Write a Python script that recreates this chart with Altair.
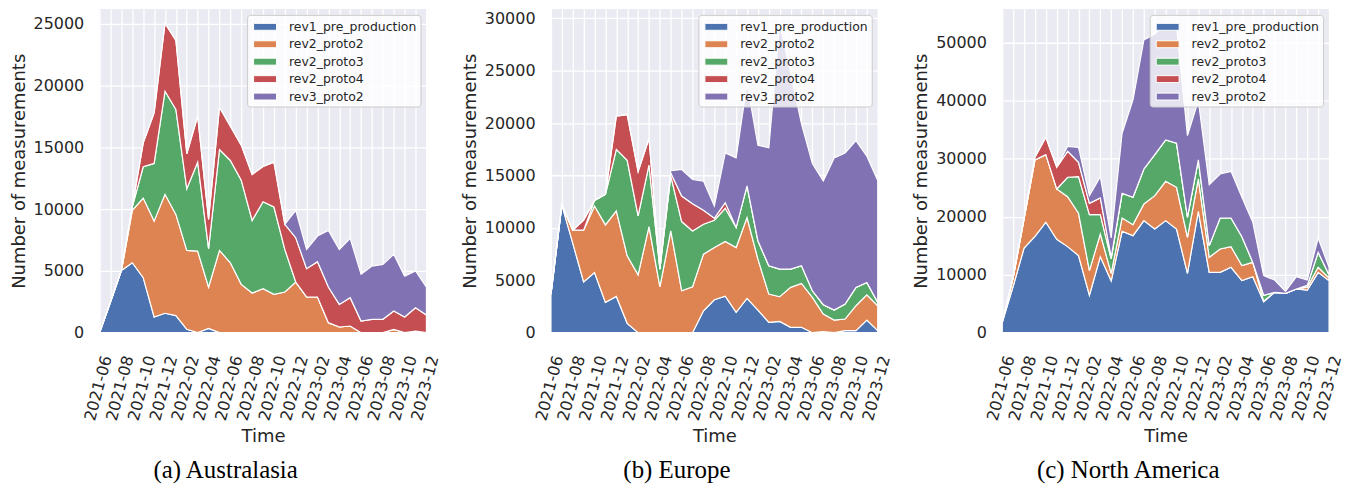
import json
import altair as alt
import pandas as pd

MONTHS = ["2021-06", "2021-07", "2021-08", "2021-09", "2021-10", "2021-11", "2021-12",
          "2022-01", "2022-02", "2022-03", "2022-04", "2022-05", "2022-06", "2022-07",
          "2022-08", "2022-09", "2022-10", "2022-11", "2022-12", "2023-01", "2023-02",
          "2023-03", "2023-04", "2023-05", "2023-06", "2023-07", "2023-08", "2023-09",
          "2023-10", "2023-11", "2023-12"]
SERIES = ["rev1_pre_production", "rev2_proto2", "rev2_proto3", "rev2_proto4", "rev3_proto2"]
COLORS = ["#4C72B0", "#DD8452", "#55A868", "#C44E52", "#8172B3"]

# (a) Australasia
AUS_REV1 = [0, 2500, 5040, 5660, 4450, 1270, 1570, 1380, 270, 0, 350, 0, 0, 0, 0, 0,
            0, 0, 0, 0, 0, 0, 0, 0, 0, 0, 0, 0, 0, 0, 0]
AUS_P2 = [0, 0, 0, 4240, 6450, 7760, 9630, 8190, 6390, 6600, 3340, 6660, 5660, 3910, 3210, 3560,
          3100, 3290, 4100, 2890, 2890, 810, 460, 540, 0, 0, 0, 270, 0, 130, 0]
AUS_P3 = [0, 0, 0, 300, 2530, 4670, 8350, 8500, 4990, 7200, 3110, 8170, 8280, 8440, 5880, 7040,
          7070, 3450, 0, 0, 0, 0, 0, 0, 0, 0, 0, 0, 0, 0, 0]
AUS_P4 = [0, 0, 0, 0, 1940, 4100, 5500, 5580, 2830, 3730, 2370, 3430, 2780, 2830, 3720, 2860,
          3640, 2030, 3590, 2290, 2860, 2880, 1830, 2290, 945, 1080, 1080, 1480, 1270, 1890, 1430]
AUS_R3 = [0, 0, 0, 0, 0, 0, 0, 0, 0, 0, 0, 0, 0, 0, 0, 0,
          0, 0, 2210, 1560, 2070, 4590, 4450, 4800, 3775, 4310, 4450, 4590, 3310, 2970, 2260]

# (b) Europe
EU_REV1 = [3680, 12190, 8540, 4850, 5740, 2890, 3460, 890, 0, 0, 0, 0, 0, 0, 2090, 3140,
           3490, 1940, 3270, 2160, 990, 1080, 510, 510, 0, 100, 0, 190, 190, 1200, 190]
EU_P2 = [0, 0, 1240, 4930, 6350, 7390, 8160, 6440, 5520, 10120, 4380, 9710, 4000, 4380, 5400, 4980,
         5210, 6180, 7710, 4850, 2690, 2350, 3810, 4190, 3370, 1680, 1200, 1110, 2380, 2420, 2380]
EU_P3 = [0, 0, 0, 0, 530, 2920, 5870, 9110, 5620, 5870, 1680, 5240, 6600, 5330, 2860, 2610,
         3170, 1910, 3020, 1750, 2700, 2630, 1740, 1680, 630, 890, 960, 1430, 1750, 1170, 320]
EU_P4 = [0, 0, 0, 950, 0, 0, 3170, 4350, 4220, 2540, 0, 300, 2440, 2600, 1330, 190,
         540, 0, 0, 0, 0, 0, 0, 0, 0, 0, 0, 0, 0, 0, 0]
EU_R3 = [0, 0, 0, 0, 0, 0, 0, 0, 0, 0, 0, 200, 2530, 2300, 2780, 1160,
         4740, 6640, 9810, 9120, 11250, 23440, 18750, 13550, 12130, 11790, 14510, 14420, 14000, 12040, 11630]

# (c) North America
NA_REV1 = [1800, 8000, 14600, 16600, 19050, 16100, 14840, 13300, 6450, 13100, 8950, 17480, 16730, 19320, 17880, 19320,
           17880, 10240, 20930, 10410, 10410, 11270, 8970, 9660, 5350, 6960, 6790, 7530, 7360, 10410, 8970]
NA_P2 = [0, 1500, 5010, 13190, 11650, 8680, 8620, 7290, 4250, 3920, 1290, 2300, 1900, 2880, 5750, 6780,
         7190, 6210, 5580, 2590, 4020, 3570, 2590, 2470, 100, 0, 0, 0, 500, 860, 460]
NA_P3 = [0, 0, 0, 0, 0, 0, 3340, 6320, 9660, 3340, 2470, 4260, 4720, 6030, 7070, 7140,
         7590, 3450, 3280, 2010, 5350, 4940, 5000, 0, 1000, 0, 0, 0, 300, 2590, 570]
NA_P4 = [0, 0, 0, 460, 3000, 3740, 4480, 2470, 1950, 2870, 280, 0, 0, 0, 0, 0,
         0, 0, 0, 0, 0, 0, 0, 0, 0, 0, 0, 0, 0, 0, 0]
NA_R3 = [0, 0, 0, 0, 0, 0, 860, 2590, 1320, 3680, 3340, 10350, 16790, 22260, 20800, 20060,
         20140, 14080, 10230, 10520, 7590, 8050, 6790, 6900, 3380, 2120, 340, 2130, 920, 2470, 1270]

LABEL_EXPR = "datum.value % 2 == 0 ? " + json.dumps(MONTHS) + "[datum.value] : ''"
FONT = "DejaVu Sans"
TXT = "#262626"
LEGEND_SYMBOL = "M-1.353,-0.41H1.353V0.41H-1.353Z"


def panel(caption, series_values, ymax, ystep):
    rows = []
    for s_i, (name, vals) in enumerate(zip(SERIES, series_values)):
        for m_i, v in enumerate(vals):
            rows.append({"t": m_i, "series": name, "order": s_i, "value": v})
    df = pd.DataFrame(rows)
    yvals = list(range(0, int(ymax) + 1, ystep))
    return alt.Chart(df).mark_area(
        stroke="white", strokeWidth=1.2, interpolate="linear", opacity=1
    ).encode(
        x=alt.X("t:Q", title="Time",
                scale=alt.Scale(domain=[0, len(MONTHS) - 1], nice=False, zero=False),
                axis=alt.Axis(values=list(range(len(MONTHS))), labelExpr=LABEL_EXPR,
                              labelAngle=-75, labelAlign="right", labelBaseline="middle",
                              labelPadding=23, labelOffset=7, labelOverlap=False,
                              labelFlush=False, titlePadding=6)),
        y=alt.Y("value:Q", stack="zero", title="Number of measurements",
                scale=alt.Scale(domain=[0, ymax], nice=False),
                axis=alt.Axis(values=yvals, format="d", labelPadding=16, titlePadding=5)),
        color=alt.Color("series:N",
                        scale=alt.Scale(domain=SERIES, range=COLORS),
                        legend=alt.Legend(
                            orient="top-right", offset=6, title=None,
                            fillColor="rgba(255,255,255,0.8)", strokeColor="#cccccc",
                            cornerRadius=3, padding=3,
                            symbolType=LEGEND_SYMBOL,
                            symbolSize=289, symbolStrokeColor="white", symbolStrokeWidth=1,
                            symbolOpacity=1, symbolOffset=6, labelOffset=15,
                            labelFont=FONT, labelFontSize=12.5, labelColor=TXT,
                            rowPadding=1.5)),
        order=alt.Order("order:Q", sort="ascending"),
    ).properties(
        width=328, height=325,
        title=alt.TitleParams(text=caption, orient="bottom", anchor="middle", frame="bounds",
                              font="Liberation Serif", fontSize=25, fontWeight="normal",
                              color="black", offset=12),
    )


a = panel("(a) Australasia", [AUS_REV1, AUS_P2, AUS_P3, AUS_P4, AUS_R3], 26210, 5000)
b = panel("(b) Europe", [EU_REV1, EU_P2, EU_P3, EU_P4, EU_R3], 30890, 5000)
c = panel("(c) North America", [NA_REV1, NA_P2, NA_P3, NA_P4, NA_R3], 55840, 10000)

chart = alt.hconcat(a, b, c, spacing=20).resolve_scale(color="independent").resolve_legend(
    color="independent"
).properties(
    padding={"left": 2, "top": 0, "right": 0, "bottom": 0}
).configure_view(
    fill="#EAEAF2", stroke=None
).configure_axis(
    domain=False, ticks=False, tickSize=0, grid=True, gridColor="white", gridWidth=1.3,
    labelFont=FONT, labelFontSize=16, labelColor=TXT,
    titleFont=FONT, titleFontSize=18, titleColor=TXT, titleFontWeight="normal",
).configure_legend(symbolType=LEGEND_SYMBOL)

chart.save("out.html", embed_options={"renderer": "svg", "actions": False})
